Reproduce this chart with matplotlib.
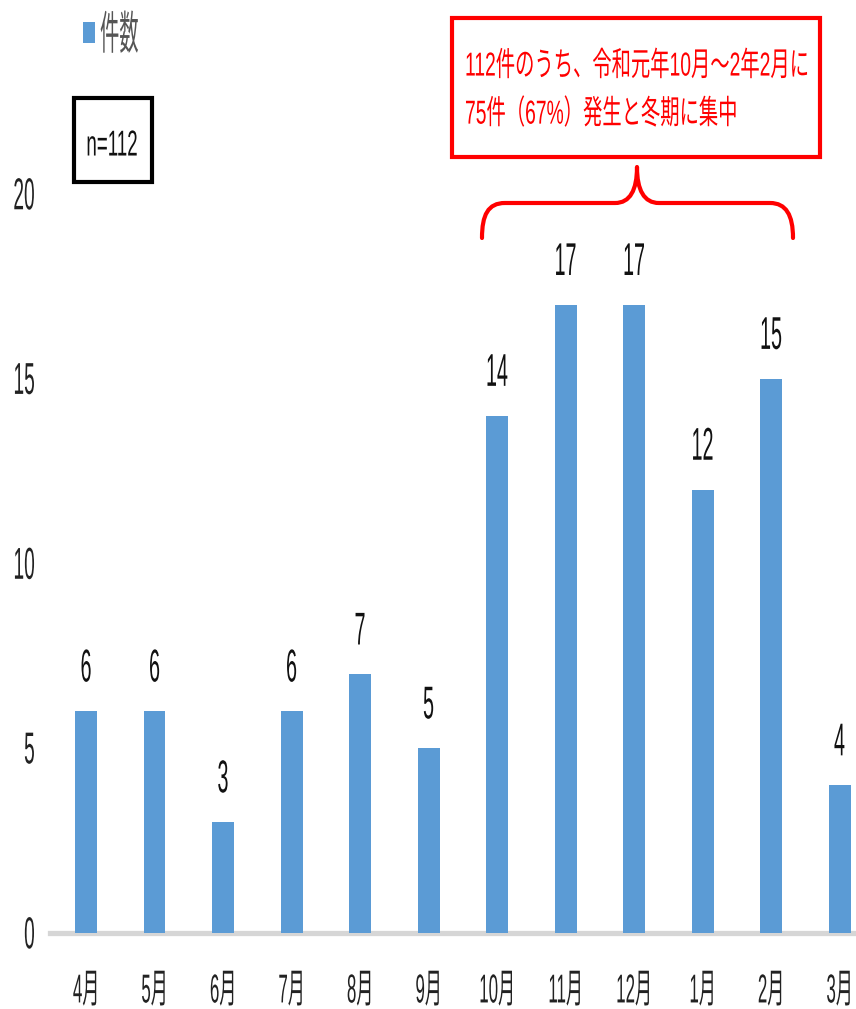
import matplotlib
matplotlib.use("Agg")
import matplotlib.pyplot as plt
from matplotlib.patches import Rectangle, PathPatch
from matplotlib.path import Path
from matplotlib.patheffects import AbstractPathEffect
from matplotlib.transforms import Affine2D

plt.rcParams['font.family'] = ['Liberation Sans', 'Noto Sans CJK JP', 'DejaVu Sans']

months = ['4月', '5月', '6月', '7月', '8月', '9月', '10月', '11月', '12月', '1月', '2月', '3月']
counts = [6, 6, 3, 6, 7, 5, 14, 17, 17, 12, 15, 4]
series_name = '件数'
yticks = [0, 5, 10, 15, 20]
n_label = 'n=112'
note_lines = ['112件のうち、令和元年10月～2年2月に', '75件（67%）発生と冬期に集中']


class Tall(AbstractPathEffect):
    """Draw glyphs stretched vertically (the source uses a tall, narrow face)."""

    def __init__(self, sy=2.0, anchor='center'):
        super().__init__()
        self.sy = sy
        self.anchor = anchor

    def draw_path(self, renderer, gc, tpath, affine, rgbFace=None):
        if self.anchor == 'baseline':
            cy = 0.0
        else:
            ext = tpath.get_extents()
            cy = 0.5 * (ext.y0 + ext.y1)
        t = Affine2D().translate(0, -cy).scale(1, self.sy).translate(0, cy) + affine
        renderer.draw_path(gc, tpath, t, rgbFace)


W, H = 856, 1009
fig = plt.figure(figsize=(W / 100, H / 100), dpi=100)


def fx(px):
    return px / W


def fy(py):
    return 1 - py / H


ax = fig.add_axes([fx(50), fy(933), 1 - fx(50), fy(194) - fy(933)])
x = list(range(len(months)))
bars = ax.bar(x, counts, width=0.32, color='#5B9BD5', zorder=3, label=series_name)
ax.set_xlim(-0.526, 11.24)
ax.set_ylim(0, 20)

for sp in ['top', 'right', 'left']:
    ax.spines[sp].set_visible(False)
ax.spines['bottom'].set_color('#d6d6d6')
ax.spines['bottom'].set_linewidth(3.8)
ax.spines['bottom'].set_zorder(2)

ax.set_xticks(x)
ax.set_xticklabels(months, fontsize=12.2, color='#222222')
ax.set_yticks(yticks)
ax.set_yticklabels([str(v) for v in yticks], fontsize=13.8, color='#222222')
ax.tick_params(axis='both', length=0)
ax.tick_params(axis='x', pad=50)
ax.tick_params(axis='y', pad=11)
for lab in ax.get_xticklabels():
    lab.set_va('baseline')
    lab.set_path_effects([Tall(2.38, 'baseline')])
for lab in ax.get_yticklabels():
    lab.set_path_effects([Tall(2.33, 'center')])

for xi, v in zip(x, counts):
    ax.annotate(str(v), xy=(xi, v), xytext=(0, 21.5), textcoords='offset points',
                ha='center', va='baseline', fontsize=14.2, color='#111111',
                annotation_clip=False, path_effects=[Tall(2.33, 'baseline')])

# legend
leg = fig.legend(handles=[bars], labels=[series_name], loc='upper left',
                 bbox_to_anchor=(fx(83), fy(22)), frameon=False, fontsize=13.9,
                 handlelength=0.64, handleheight=1.31, handletextpad=0.24,
                 borderpad=0, borderaxespad=0, labelcolor='#555555')
for t in leg.get_texts():
    t.set_path_effects([Tall(2.38, 'center')])

# n=112 box
fig.add_artist(Rectangle((fx(74), fy(182)), fx(152) - fx(74), fy(98) - fy(182),
                         transform=fig.transFigure, fill=False, ec='black', lw=3))
fig.text(fx(112), fy(145), n_label, ha='center', va='center', fontsize=13.5,
         color='#111111', path_effects=[Tall(1.92, 'center')])

# red note box
fig.add_artist(Rectangle((fx(452), fy(157)), fx(820) - fx(452), fy(18) - fy(157),
                         transform=fig.transFigure, fill=False, ec='#FF0000', lw=3))
fig.text(fx(465), fy(65), note_lines[0], ha='left', va='center', fontsize=13.9,
         color='#FF0000', path_effects=[Tall(1.72, 'center')])
fig.text(fx(465), fy(113), note_lines[1], ha='left', va='center', fontsize=13.9,
         color='#FF0000', path_effects=[Tall(1.72, 'center')])

# brace
pts = [(482, 238), (482, 215), (488, 203), (505, 203),
       (615, 203),
       (630, 203), (637, 190), (637, 167),
       (637, 190), (644, 203), (659, 203),
       (770, 203),
       (786, 203), (793, 215), (793, 238)]
codes = [Path.MOVETO, Path.CURVE4, Path.CURVE4, Path.CURVE4,
         Path.LINETO,
         Path.CURVE4, Path.CURVE4, Path.CURVE4,
         Path.CURVE4, Path.CURVE4, Path.CURVE4,
         Path.LINETO,
         Path.CURVE4, Path.CURVE4, Path.CURVE4]
brace = Path([(fx(px), fy(py)) for px, py in pts], codes)
fig.add_artist(PathPatch(brace, transform=fig.transFigure, fill=False,
                         ec='#FF0000', lw=3, capstyle='round', joinstyle='round'))

fig.savefig('out.png', dpi=100, facecolor='white')
